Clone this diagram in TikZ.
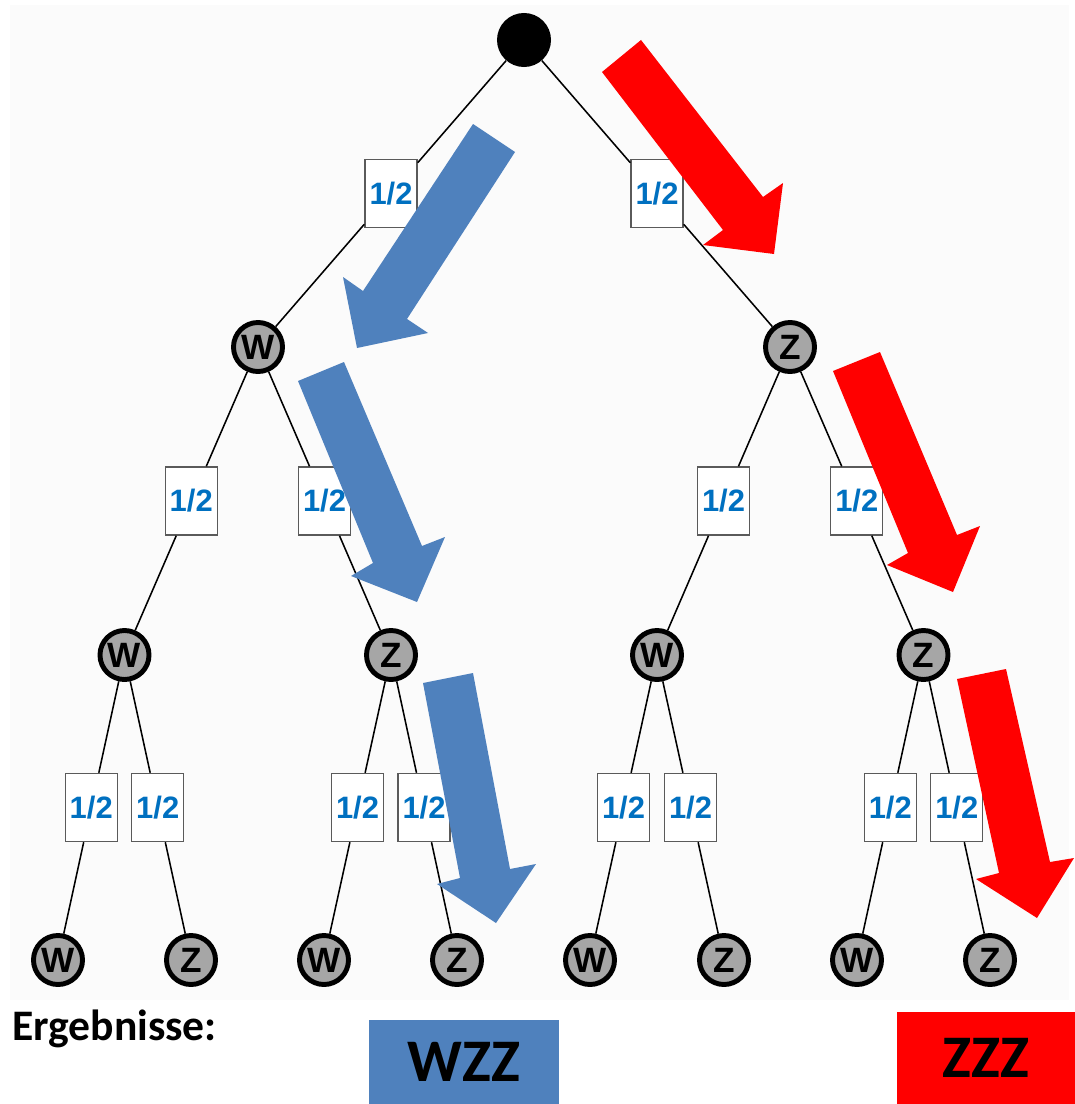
\documentclass[tikz,border=0pt]{standalone}
\usepackage{fontspec}
\setmainfont{Liberation Sans}
\newfontfamily\calibfont{Carlito}
\usetikzlibrary{calc}
\definecolor{arrblue}{RGB}{79,129,189}
\definecolor{arrred}{RGB}{255,0,0}
\definecolor{probblue}{RGB}{0,112,192}
\definecolor{nodegray}{RGB}{166,166,166}
\definecolor{boxgray}{RGB}{90,90,90}
\definecolor{bggray}{RGB}{251,251,251}
\begin{document}
\begin{tikzpicture}[x=0.025cm,y=-0.025cm,
  treenode/.style={circle, fill=nodegray, draw=black, line width=3.5pt, minimum size=1.225cm, inner sep=0pt,
    font=\bfseries\fontsize{25}{25}\selectfont},
  rootnode/.style={circle, fill=black, minimum size=1.35cm, inner sep=0pt},
  probbox/.style={rectangle, fill=white, draw=boxgray, line width=1pt, minimum width=1.3cm, minimum height=1.7cm,
    inner sep=0pt, text=probblue, font=\bfseries\fontsize{22}{22}\selectfont},
  treeline/.style={line width=1.1pt, black},
  resbox/.style={rectangle, inner sep=0pt, font=\calibfont\bfseries\fontsize{43}{43}\selectfont}
]
\useasboundingbox (0,0) rectangle (1075,1104);
\fill[bggray] (10,5) rectangle (1069,1000);

% tree nodes
\node[rootnode] (root) at (524,40) {};
\node[treenode] (n1) at (258,347) {W};
\node[treenode] (n2) at (790,347) {Z};
\node[treenode] (m1) at (124.5,655) {W};
\node[treenode] (m2) at (391,655) {Z};
\node[treenode] (m3) at (657,655) {W};
\node[treenode] (m4) at (923.5,655) {Z};
\node[treenode] (l1) at (58,960) {W};
\node[treenode] (l2) at (191,960) {Z};
\node[treenode] (l3) at (324,960) {W};
\node[treenode] (l4) at (457,960) {Z};
\node[treenode] (l5) at (590,960) {W};
\node[treenode] (l6) at (724,960) {Z};
\node[treenode] (l7) at (857,960) {W};
\node[treenode] (l8) at (990,960) {Z};

% probability boxes
\node[probbox] (b1) at ($(root)!0.5!(n1)$) {1/2};
\node[probbox] (b2) at ($(root)!0.5!(n2)$) {1/2};
\node[probbox] (c1) at ($(n1)!0.5!(m1)$) {1/2};
\node[probbox] (c2) at ($(n1)!0.5!(m2)$) {1/2};
\node[probbox] (c3) at ($(n2)!0.5!(m3)$) {1/2};
\node[probbox] (c4) at ($(n2)!0.5!(m4)$) {1/2};
\node[probbox] (d1) at ($(m1)!0.5!(l1)$) {1/2};
\node[probbox] (d2) at ($(m1)!0.5!(l2)$) {1/2};
\node[probbox] (d3) at ($(m2)!0.5!(l3)$) {1/2};
\node[probbox] (d4) at ($(m2)!0.5!(l4)$) {1/2};
\node[probbox] (d5) at ($(m3)!0.5!(l5)$) {1/2};
\node[probbox] (d6) at ($(m3)!0.5!(l6)$) {1/2};
\node[probbox] (d7) at ($(m4)!0.5!(l7)$) {1/2};
\node[probbox] (d8) at ($(m4)!0.5!(l8)$) {1/2};

% edges
\draw[treeline] (root) -- (b1) (b1) -- (n1);
\draw[treeline] (root) -- (b2) (b2) -- (n2);
\draw[treeline] (n1) -- (c1) (c1) -- (m1);
\draw[treeline] (n1) -- (c2) (c2) -- (m2);
\draw[treeline] (n2) -- (c3) (c3) -- (m3);
\draw[treeline] (n2) -- (c4) (c4) -- (m4);
\draw[treeline] (m1) -- (d1) (d1) -- (l1);
\draw[treeline] (m1) -- (d2) (d2) -- (l2);
\draw[treeline] (m2) -- (d3) (d3) -- (l3);
\draw[treeline] (m2) -- (d4) (d4) -- (l4);
\draw[treeline] (m3) -- (d5) (d5) -- (l5);
\draw[treeline] (m3) -- (d6) (d6) -- (l6);
\draw[treeline] (m4) -- (d7) (d7) -- (l7);
\draw[treeline] (m4) -- (d8) (d8) -- (l8);

% block arrows
\fill[arrblue] (473,124) -- (515,152) -- (407,319) -- (428,333) -- (357,348) -- (343,277) -- (363,291) -- cycle;
\fill[arrblue] (344,362) -- (422,546) -- (445,537) -- (417,602) -- (351,576) -- (373,563) -- (298,381) -- cycle;
\fill[arrblue] (473,673) -- (510,869) -- (536,864) -- (496,923) -- (437,884) -- (460,878) -- (423,683) -- cycle;
\fill[arrred] (641,40) -- (763,197) -- (783,183) -- (774,254) -- (703,245) -- (723,230) -- (602,72) -- cycle;
\fill[arrred] (880,352) -- (957,535) -- (980,526) -- (953,592) -- (887,565) -- (908,553) -- (833,371) -- cycle;
\fill[arrred] (1006,669) -- (1050,862) -- (1074,858) -- (1037,918) -- (976,879) -- (999,873) -- (957,679) -- cycle;

% results
\node[anchor=base west, inner sep=0pt, font=\calibfont\bfseries\fontsize{31}{31}\selectfont] (erg) at (12,1040) {Ergebnisse:};
\node[resbox, fill=arrblue, minimum width=4.75cm, minimum height=2.1cm] (wzz) at (464,1062) {WZZ};
\node[resbox, fill=arrred, minimum width=4.45cm, minimum height=2.3cm] (zzz) at (986,1058) {ZZZ};
\end{tikzpicture}
\end{document}
